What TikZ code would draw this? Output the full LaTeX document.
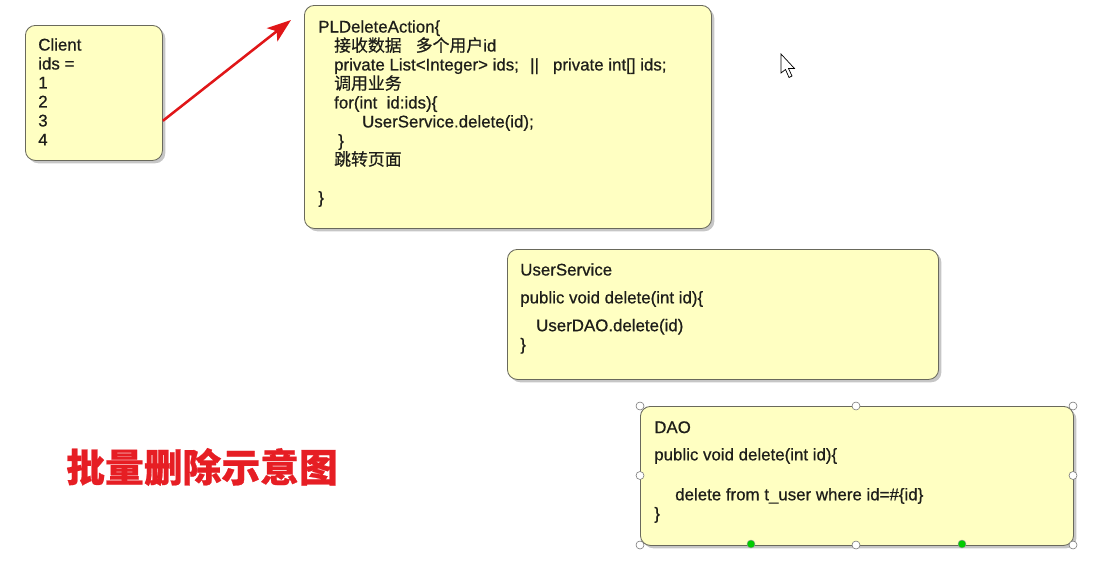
\documentclass[tikz,border=0pt]{standalone}
\usepackage{fontspec}
\setmainfont{Liberation Sans}[UprightFeatures={FakeBold=0.7}]
\newfontfamily\cjk{Noto Sans CJK SC}[UprightFeatures={FakeBold=0.6}]
\newfontfamily\titlecjk{Noto Sans CJK SC}[BoldFeatures={FakeBold=0.6}]
\usetikzlibrary{arrows.meta,shadows}

\definecolor{notefill}{RGB}{255,255,194}
\definecolor{noteline}{RGB}{105,105,92}
\definecolor{notetext}{RGB}{30,30,26}
\definecolor{arrowred}{RGB}{224,22,24}
\definecolor{titlered}{RGB}{230,30,36}

\begin{document}
\begin{tikzpicture}[
        x=0.025cm, y=-0.025cm,
        every node/.style={font=\fontsize{12}{13.5}\selectfont, text=notetext},
        note/.style={draw=noteline, line width=0.6pt, fill=notefill,
            rounded corners=0.25cm, inner sep=0pt, anchor=north west,
            drop shadow={shadow xshift=2pt, shadow yshift=-2pt, opacity=0.45}},
        code/.style={align=left, inner sep=0pt, anchor=north west},
        handle/.style={draw=black!55, fill=white, line width=0.4pt},
        anchorpt/.style={draw=black!40, fill=green!80!black, line width=0.3pt}
    ]

    \useasboundingbox (0,0) rectangle (1111,566);

    % Client
    \node[note, minimum width=3.425cm, minimum height=3.375cm] (client) at (25,25) {};
    \node[code] (clienttext) at ([shift={(13,13)}]client.north west)
        {Client\\ ids =\\ 1\\ 2\\ 3\\ 4};

    % Action
    \node[note, minimum width=10.175cm, minimum height=5.575cm] (action) at (304,5) {};
    \node[code] (actiontext) at ([shift={(14,15)}]action.north west)
        {PLDeleteAction\{\\
         \hspace*{11.3pt}{\cjk 接收数据}\hspace*{10pt}{\cjk 多个用户}id\\
         \hspace*{11.3pt}private List<Integer> ids;\hspace*{8pt}||\hspace*{10pt}private int[] ids;\\
         \hspace*{11.3pt}{\cjk 调用业务}\\
         \hspace*{11.3pt}for(int\ \ id:ids)\{\\
         \hspace*{31.2pt}UserService.delete(id);\\
         \hspace*{14.2pt}\}\\
         \hspace*{11.3pt}{\cjk 跳转页面}\\[13.5pt]
         \}};

    % Service
    \node[note, minimum width=10.775cm, minimum height=3.25cm] (service) at (507,249) {};
    \node[code] (servicetext) at ([shift={(13,14)}]service.north west)
        {UserService\\[6.3pt]
         public void delete(int id)\{\\[6.3pt]
         \hspace*{11.3pt}UserDAO.delete(id)\\
         \}};

    % DAO
    \node[note, minimum width=10.825cm, minimum height=3.475cm] (dao) at (640,406) {};
    \node[code] (daotext) at ([shift={(14,15)}]dao.north west)
        {DAO\\[5.9pt]
         public void delete(int id)\{\\[14.9pt]
         \hspace*{14.9pt}delete from t\_user where id=\#\{id\}\\
         \}};

    % Selection handles
    \foreach \px/\py in {640/406, 856/406, 1073/406, 640/475.5, 1073/475.5,
                         640/545, 856/545, 1073/545}
        \filldraw[handle] (\px,\py) circle (0.1cm);
    \foreach \px in {751, 962}
        \filldraw[anchorpt] (\px,544) circle (0.1cm);

    % Title
    \node[font=\fontsize{27.6}{30}\selectfont\titlecjk\bfseries, text=titlered]
        (title) at (202,467) {批量删除示意图};

    % Request arrow
    \coordinate (target) at (291,20);
    \draw[arrowred, line width=1.8pt, -{Stealth[length=17pt,width=12pt,inset=4pt]}]
        (client.-22) -- (target);

    % Mouse pointer
    \draw[fill=white, line width=0.5pt, line join=miter, shift={(781,54)}]
        (0,0) -- (0,19) -- (4.5,15.5) -- (8,23.5) -- (11,22) -- (7.5,14.5)
        -- (13.5,14.5) -- cycle;

\end{tikzpicture}
\end{document}
